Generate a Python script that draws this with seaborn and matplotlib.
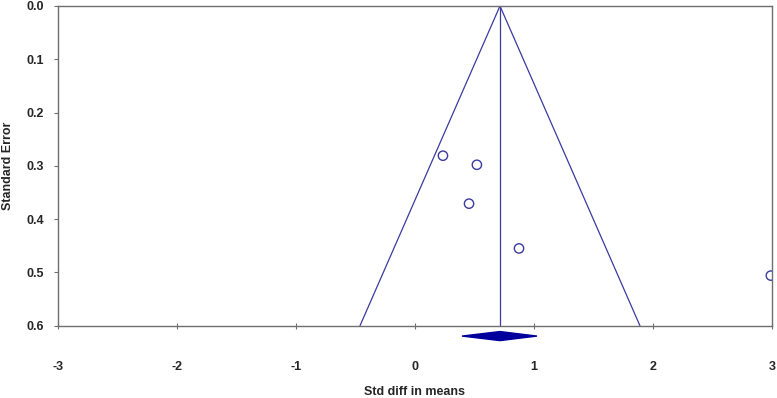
import matplotlib
matplotlib.use("Agg")
import matplotlib.pyplot as plt
import seaborn as sns
import pandas as pd

# study estimates (std diff in means) and their standard errors
std_diff = [0.235, 0.52, 0.454, 0.874, 2.99]
std_err = [0.281, 0.298, 0.371, 0.455, 0.506]

# pooled estimate and its 95% CI (the diamond)
pooled = 0.714
ci_low, ci_high = 0.395, 1.025

x_ticks = [-3, -2, -1, 0, 1, 2, 3]
y_ticks = [0.0, 0.1, 0.2, 0.3, 0.4, 0.5, 0.6]
se_max = 0.6

sns.set_style("white")
plt.rcParams['font.family'] = ['Liberation Sans', 'DejaVu Sans']
plt.rcParams['font.weight'] = 'bold'

line_col = '#3a3aa0'
spine_col = '#6e6e6e'

fig = plt.figure(figsize=(7.77, 3.98), dpi=100)
ax = fig.add_axes([0.0746, 0.1817, 0.9190, 0.8033])

df = pd.DataFrame({'d': std_diff, 'se': std_err})

# funnel (pseudo 95% limits) and pooled line
ax.plot([pooled - 1.96 * se_max, pooled, pooled + 1.96 * se_max], [se_max, 0, se_max],
        color=line_col, lw=0.9)
ax.plot([pooled, pooled], [0, se_max], color=line_col, lw=0.9)

sns.scatterplot(data=df, x='d', y='se', ax=ax, s=45, facecolor='none',
                edgecolor=line_col, linewidth=1.0, zorder=3)

# diamond below the axis
dy = 0.0085
yd = 0.6195
ax.fill([ci_low, pooled, ci_high, pooled], [yd, yd - dy, yd, yd + dy],
        color='#00009c', clip_on=False, zorder=4)

ax.set_xlim(-3, 3)
ax.set_ylim(0.6, 0.0)
ax.set_xticks(x_ticks)
ax.set_yticks(y_ticks)
ax.set_xticklabels([str(t) for t in x_ticks], fontsize=9, fontweight='bold')
ax.set_yticklabels([f"{t:.1f}" for t in y_ticks], fontsize=9, fontweight='bold')
ax.tick_params(axis='x', direction='inout', length=5, width=0.8, color=spine_col, pad=23)
ax.tick_params(axis='y', direction='out', length=3, width=0.8, color=spine_col, pad=7)
ax.tick_params(left=True, bottom=True)

for s in ax.spines.values():
    s.set_color(spine_col)
    s.set_linewidth(1.0)

ax.set_xlabel('Std diff in means', fontsize=9, fontweight='bold', labelpad=9)
ax.set_ylabel('Standard Error', fontsize=9, fontweight='bold', labelpad=9)

fig.savefig('out.png', dpi=100)
